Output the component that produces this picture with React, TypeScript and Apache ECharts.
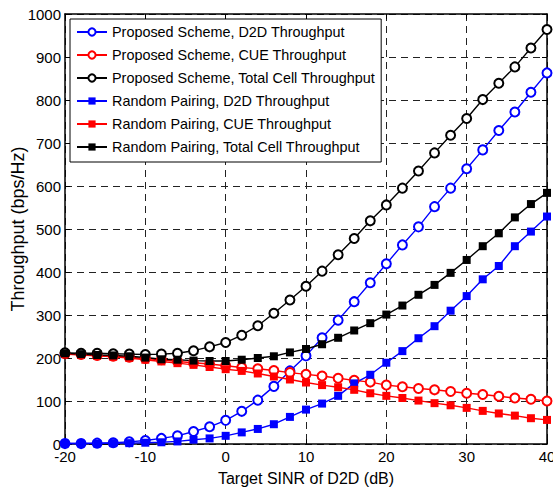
import React, { useEffect, useRef } from "react";
import * as echarts from "echarts";

const sinrDb = [-20, -18, -16, -14, -12, -10, -8, -6, -4, -2, 0, 2, 4, 6, 8, 10, 12, 14, 16, 18, 20, 22, 24, 26, 28, 30, 32, 34, 36, 38, 40];

const proposedD2D = [1, 1, 2, 3, 5, 8, 13, 19, 29, 40, 55, 76, 102, 134, 170, 205, 247, 288, 331, 375, 419, 463, 505, 552, 595, 640, 684, 729, 772, 818, 863];
const proposedCUE = [210, 208, 206, 204, 202, 199, 196, 192, 189, 186, 182, 178, 175, 171, 166, 162, 158, 153, 148, 144, 137, 133, 129, 126, 122, 118, 115, 111, 107, 104, 100];
const proposedTotal = [212, 211, 211, 210, 209, 208, 209, 211, 217, 226, 236, 253, 275, 304, 335, 367, 402, 440, 478, 519, 556, 595, 635, 677, 718, 757, 801, 839, 877, 921, 964];
const randomD2D = [1, 1, 1, 2, 2, 3, 4, 6, 10, 13, 19, 27, 35, 46, 63, 80, 94, 112, 141, 161, 189, 216, 246, 274, 310, 344, 383, 414, 460, 494, 529];
const randomCUE = [209, 207, 205, 203, 200, 196, 192, 188, 184, 179, 174, 170, 164, 157, 150, 143, 137, 132, 126, 118, 112, 107, 101, 95, 90, 84, 77, 71, 66, 60, 56];
const randomTotal = [211, 209, 207, 206, 204, 201, 197, 196, 194, 193, 193, 196, 200, 204, 213, 221, 232, 247, 264, 281, 301, 322, 347, 370, 398, 428, 460, 490, 527, 558, 584];

const seriesNames = [
  "Proposed Scheme, D2D Throughput",
  "Proposed Scheme, CUE Throughput",
  "Proposed Scheme, Total Cell Throughput",
  "Random Pairing, D2D Throughput",
  "Random Pairing, CUE Throughput",
  "Random Pairing, Total Cell Throughput",
];
const seriesValues = [proposedD2D, proposedCUE, proposedTotal, randomD2D, randomCUE, randomTotal];
const seriesColors = ["#0000ff", "#ff0000", "#000000", "#0000ff", "#ff0000", "#000000"];
const seriesMarkers = ["emptyCircle", "emptyCircle", "emptyCircle", "rect", "rect", "rect"];

const FONT = "Liberation Sans, Arial, sans-serif";

export default function App() {
  const ref = useRef<HTMLDivElement>(null);
  useEffect(() => {
    if (!ref.current) return;
    const chart = echarts.init(ref.current, undefined, { renderer: "svg" });
    const gridLine = { show: true, lineStyle: { color: "#222", type: [7, 5] as any, width: 1 } };
    const axisLine = { show: true, onZero: false, lineStyle: { color: "#000", width: 1.5 } };
    const tick = { show: true, inside: true, length: 5, lineStyle: { color: "#000", width: 1 } };
    const series = seriesNames.map((name, i) => ({
      name,
      type: "line",
      data: sinrDb.map((x, j) => [x, seriesValues[i][j]]),
      symbol: seriesMarkers[i],
      symbolSize: seriesMarkers[i] === "rect" ? 8 : 9,
      showAllSymbol: true,
      color: seriesColors[i],
      lineStyle: { color: seriesColors[i], width: 1.4 },
      itemStyle: { color: seriesColors[i], borderWidth: 1.4 },
      xAxisIndex: 0,
      yAxisIndex: 0,
    }));
    const plain = (v: number) => String(v);
    chart.setOption({
      animation: false,
      textStyle: { fontFamily: FONT },
      grid: { left: 65, right: 6, top: 14, bottom: 48, containLabel: false, outerBoundsMode: "none" },
      legend: {
        orient: "vertical",
        left: 70,
        top: 19,
        padding: [6, 6, 8, 6],
        itemWidth: 30,
        itemHeight: 9,
        itemGap: 9,
        backgroundColor: "#fff",
        borderColor: "#000",
        borderWidth: 1,
        textStyle: { fontFamily: FONT, fontSize: 14.4, color: "#000" },
        data: seriesNames,
      },
      xAxis: [
        {
          type: "value",
          min: -20,
          max: 40,
          interval: 10,
          position: "bottom",
          name: "Target SINR of D2D (dB)",
          nameLocation: "middle",
          nameGap: 26,
          nameMoveOverlap: false,
          nameTextStyle: { fontFamily: FONT, fontSize: 16, color: "#000" },
          axisLine,
          axisTick: tick,
          axisLabel: { fontFamily: FONT, fontSize: 15, color: "#000", margin: 5, formatter: plain },
          splitLine: gridLine,
        },
        {
          type: "value",
          min: -20,
          max: 40,
          interval: 10,
          position: "top",
          axisLine,
          axisTick: tick,
          axisLabel: { show: false },
          splitLine: { show: false },
        },
      ],
      yAxis: [
        {
          type: "value",
          min: 0,
          max: 1000,
          interval: 100,
          position: "left",
          name: "Throughput (bps/Hz)",
          nameLocation: "middle",
          nameGap: 38,
          nameMoveOverlap: false,
          nameTextStyle: { fontFamily: FONT, fontSize: 18, color: "#000" },
          axisLine,
          axisTick: tick,
          axisLabel: { fontFamily: FONT, fontSize: 15, color: "#000", margin: 4, formatter: plain },
          splitLine: gridLine,
        },
        {
          type: "value",
          min: 0,
          max: 1000,
          interval: 100,
          position: "right",
          axisLine,
          axisTick: tick,
          axisLabel: { show: false },
          splitLine: { show: false },
        },
      ],
      series,
    });
    return () => chart.dispose();
  }, []);
  return (
    <div
      ref={ref}
      style={{ position: "fixed", left: 0, top: 0, width: 553, height: 492, background: "#fff" }}
    />
  );
}
